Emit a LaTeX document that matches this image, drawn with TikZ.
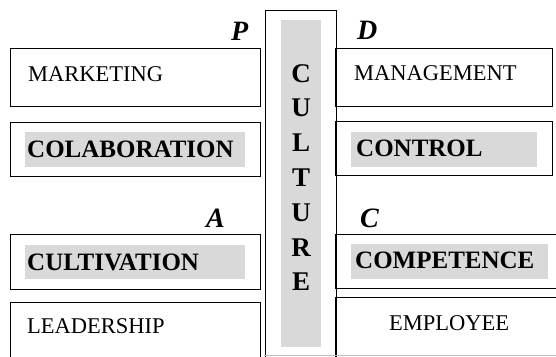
\documentclass[tikz,border=0pt]{standalone}
\usepackage{fontspec}
\setmainfont{Liberation Serif}
\begin{document}
\begin{tikzpicture}[x=1pt,y=-1pt,
  box/.style={draw=black, line width=1.3pt, rectangle, inner sep=0pt, anchor=north west},
  shade/.style={fill=black!15, draw=none, rectangle, inner sep=0pt, anchor=north west},
  reg/.style={anchor=base west, inner sep=0pt, font=\fontsize{22.5}{27}\selectfont},
  bld/.style={anchor=base west, inner sep=0pt, font=\fontsize{25}{30}\selectfont\bfseries},
  letter/.style={anchor=base west, inner sep=0pt, font=\fontsize{28}{32}\selectfont\bfseries\itshape},
  cult/.style={anchor=base, inner sep=0pt, font=\fontsize{27}{32}\selectfont\bfseries}]
\clip (0,0) rectangle (556,356);
% centre column
\node[box, line width=1.1pt, minimum width=71pt, minimum height=360pt] (col) at (265,10) {};
\node[shade, minimum width=40pt, minimum height=327pt] (colfill) at (281,20) {};
\foreach \l [count=\i] in {C,U,L,T,U,R,E}
  \node[cult] (cu\i) at (301,{82+34.8*(\i-1)}) {\l};
% left boxes
\node[box, minimum width=250pt, minimum height=58pt] (mkt) at (10,48) {};
\node[box, minimum width=250pt, minimum height=54pt] (colb) at (10,122) {};
\node[shade, minimum width=220pt, minimum height=35pt] (colbf) at (25,132) {};
\node[box, minimum width=250pt, minimum height=55pt] (cultv) at (10,234) {};
\node[shade, minimum width=220pt, minimum height=34pt] (cultvf) at (25,245) {};
\node[box, minimum width=250pt, minimum height=70pt] (lead) at (10,302) {};
% right boxes
\node[box, minimum width=217pt, minimum height=58pt] (mgmt) at (335,48) {};
\node[box, minimum width=217pt, minimum height=54pt] (ctrl) at (335,121) {};
\node[shade, minimum width=186pt, minimum height=35pt] (ctrlf) at (351,132) {};
\node[box, minimum width=240pt, minimum height=54pt] (comp) at (335,234) {};
\node[shade, minimum width=197pt, minimum height=35pt] (compf) at (351,244) {};
\node[box, minimum width=240pt, minimum height=70pt] (emp) at (335,297) {};
% faint bottom line
\coordinate (bl) at (264,355);
\coordinate (br) at (556,355);
\draw[black!25, line width=0.8pt] (bl) -- (br);
% texts
\node[reg] (t1) at (28,81) {MARKETING};
\node[bld] (t2) at (27,157) {COLABORATION};
\node[bld] (t3) at (27,270) {CULTIVATION};
\node[reg] (t4) at (27,333) {LEADERSHIP};
\node[reg] (t5) at (354,80) {MANAGEMENT};
\node[bld] (t6) at (356,156) {CONTROL};
\node[bld] (t7) at (355,268) {COMPETENCE};
\node[reg] (t8) at (389,330) {EMPLOYEE};
% letters
\node[letter] (lp) at (231,40) {P};
\node[letter] (ld) at (357,39) {D};
\node[letter] (la) at (206,227) {A};
\node[letter] (lc) at (360,227) {C};
\end{tikzpicture}
\end{document}
